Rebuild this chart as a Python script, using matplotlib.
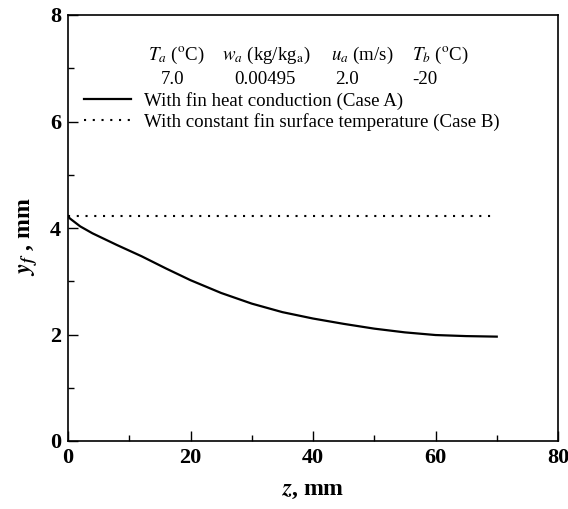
import numpy as np
import matplotlib
matplotlib.use("Agg")
import matplotlib.pyplot as plt
from matplotlib.ticker import MultipleLocator

plt.rcParams["font.family"] = ["Liberation Serif", "DejaVu Serif"]
plt.rcParams["mathtext.fontset"] = "stix"

# Case A: with fin heat conduction
z_a = [0, 0.3, 2, 4, 8, 12, 16, 20, 25, 30, 35, 40, 45, 50, 55, 60, 65, 70]
yf_a = [4.22, 4.18, 4.03, 3.90, 3.68, 3.47, 3.24, 3.02, 2.78, 2.58, 2.42, 2.30, 2.20, 2.11, 2.04, 1.99, 1.97, 1.96]

# Case B: constant fin surface temperature
z_b = [0, 69]
yf_b = [4.23, 4.23]

header = [r"$T_a$ ($^{\rm o}$C)", r"$w_a$ (kg/kg$_{\rm a}$)", r"$u_a$ (m/s)", r"$T_b$ ($^{\rm o}$C)"]
header_x = [176, 266, 362, 440]
values = ["7.0", "0.00495", "2.0", "-20"]
values_x = [173, 265, 347, 425]

fig = plt.figure(figsize=(5.68, 5.09), dpi=100)
ax = fig.add_axes([68 / 568, 68 / 509, 490 / 568, 426 / 509])

ax.plot(z_a, yf_a, color="black", lw=1.6, label="With fin heat conduction (Case A)")
ax.plot(z_b, yf_b, color="black", lw=1.5, linestyle=(0, (1, 3.2)),
        label="With constant fin surface temperature (Case B)")

ax.set_xlim(0, 80)
ax.set_ylim(0, 8)
ax.xaxis.set_major_locator(MultipleLocator(20))
ax.xaxis.set_minor_locator(MultipleLocator(10))
ax.yaxis.set_major_locator(MultipleLocator(2))
ax.yaxis.set_minor_locator(MultipleLocator(1))
ax.tick_params(which="both", direction="in", top=False, right=False, width=1)
ax.tick_params(which="major", length=7, labelsize=16, pad=5)
ax.tick_params(which="minor", length=4)
for lab in ax.get_xticklabels() + ax.get_yticklabels():
    lab.set_fontweight("bold")
for sp in ax.spines.values():
    sp.set_linewidth(1.2)

ax.set_xlabel(r"$\mathbfit{z}$, mm", fontsize=17, fontweight="bold", labelpad=9)
ax.set_ylabel(r"$\mathbfit{y_f}$ , mm", fontsize=17, fontweight="bold")
ax.yaxis.set_label_coords(-0.058, 0.48)

# parameter table in pixel positions converted to axes fraction
def ax_pos(px, py):
    return (px - 68) / 490, (441 - py) / 426

for h, px in zip(header, header_x):
    ax.text(*ax_pos(px, 55), h, transform=ax.transAxes, ha="center", va="center", fontsize=13.6)
for v, px in zip(values, values_x):
    ax.text(*ax_pos(px, 79), v, transform=ax.transAxes, ha="center", va="center", fontsize=13.6)

ax.legend(loc="upper left", bbox_to_anchor=ax_pos(84, 92), frameon=False, fontsize=13.6,
          handlelength=2.5, handletextpad=0.7, labelspacing=0.15, borderaxespad=0, borderpad=0)

fig.savefig("out.png", dpi=100)
